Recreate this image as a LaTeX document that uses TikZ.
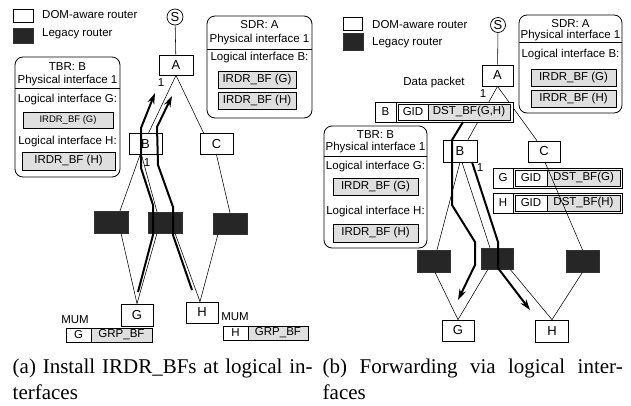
\documentclass[tikz,border=0pt]{standalone}
\usepackage{fontspec}
\setmainfont{Liberation Serif}
\setsansfont{Liberation Sans}
\usetikzlibrary{arrows.meta,shadows}

\tikzset{
 dom/.style={draw, fill=white, inner sep=0, line width=0.7pt, minimum width=33, minimum height=21, font=\sffamily\fontsize{13}{14}\selectfont},
 legacy/.style={draw=black!80, fill=black!85, inner sep=0, minimum width=34, minimum height=21},
 info/.style={draw, rounded corners=8pt, line width=0.8pt, inner sep=0},
 bf/.style={draw, fill=gray!25, inner sep=0, drop shadow={shadow xshift=0.8pt, shadow yshift=-0.8pt, fill=gray, opacity=0.8}},
 cell/.style={draw, fill=white, inner sep=0},
 pkt/.style={draw, fill=white, inner sep=0, drop shadow={shadow xshift=0.8pt, shadow yshift=-0.8pt, fill=gray, opacity=0.8}},
 lbl/.style={inner sep=0},
 link/.style={line width=0.55pt},
 flow/.style={line width=2pt, -{Stealth[length=11pt,width=7pt]}},
 captext/.style={anchor=north west, text width=300pt, align=justify, inner sep=0, font=\rmfamily\fontsize{21}{26}\selectfont}
}

\begin{document}
\begin{tikzpicture}[x=1pt, y=-1pt, font=\sffamily\fontsize{11.5}{13}\selectfont]
 \useasboundingbox (0,0) rectangle (631,405);

 % (a) left picture
 \node[dom, minimum width=20, minimum height=13] (ldom) at (23,15.5) {};
 \node[lbl, anchor=west] (ldomtxt) at (42,15) {DOM-aware router};
 \node[legacy, minimum width=20, minimum height=15] (lleg) at (23,35.5) {};
 \node[lbl, anchor=west] (llegtxt) at (42,34) {Legacy router};

 \node[dom, circle, minimum size=16] (lS) at (175,17) {S};
 \node[dom, minimum width=34, minimum height=20] (lA) at (176,65) {A};
 \node[dom] (lB) at (145.5,144) {B};
 \node[dom] (lC) at (216.5,144) {C};
 \node[legacy, minimum height=22] (lL1) at (111,222) {};
 \node[legacy] (lL2) at (165,222.5) {};
 \node[legacy] (lL3) at (230,223.5) {};
 \node[dom, minimum width=32, minimum height=22] (lG) at (137,315) {G};
 \node[dom, minimum width=32] (lH) at (202,312.5) {H};

 \node[info, minimum width=105, minimum height=102] (lsdr) at (259.5,67) {};
 \node[lbl] (lsdrt) at (259.5,25) {SDR: A};
 \node[lbl] (lsdrp) at (259.5,40) {Physical interface 1};
 \draw[line width=0.8pt] (207,49) -- (312,49);
 \node[lbl] (lsdrl) at (259.5,58) {Logical interface B:};
 \node[bf, minimum width=78, minimum height=17] (lsdrg) at (257,79.5) {IRDR\_BF (G)};
 \node[bf, minimum width=78, minimum height=17] (lsdrh) at (257,100.5) {IRDR\_BF (H)};

 \node[info, minimum width=105, minimum height=120] (ltbr) at (67.5,117) {};
 \node[lbl] (ltbrt) at (67.5,67) {TBR: B};
 \node[lbl] (ltbrp) at (67.5,81) {Physical interface 1};
 \draw[line width=0.8pt] (15,88) -- (120,88);
 \node[lbl] (ltbrg) at (67.5,100) {Logical interface G:};
 \node[bf, minimum width=90, minimum height=16, font=\sffamily\fontsize{9.5}{11}\selectfont] (ltbrgbf) at (68,120) {IRDR\_BF (G)};
 \node[lbl] (ltbrh) at (67.5,142) {Logical interface H:};
 \node[bf, minimum width=93, minimum height=18] (ltbrhbf) at (68.5,161) {IRDR\_BF (H)};

 \draw[link] (lS) -- (lA);
 \draw[link] (lA.south) -- ([xshift=3pt]lB.north);
 \draw[link] (lA.south) -- ([xshift=4pt]lC.north west);
 \draw[link] ([xshift=-5.5pt]lB.south) -- ([xshift=9pt]lL1.north);
 \draw[link] ([xshift=-4pt]lB.south) -- ([xshift=-8pt]lL2.north);
 \draw[link] (lC.south) -- (lL3.north);
 \draw[link] ([xshift=10pt]lL1.south) -- (lG.north);
 \draw[link] ([xshift=-8pt]lL2.south) -- (lG.north);
 \draw[link] ([xshift=10pt]lL2.south) -- ([xshift=-2pt]lH.north);
 \draw[link] ([xshift=-12pt]lL3.south) -- ([xshift=-2pt]lH.north);
 \node[lbl] (lone1) at (161,83) {1};
 \node[lbl] (lone2) at (147,163) {1};

 \coordinate (la1s) at (138,292);
 \coordinate (la1e) at (155,93);
 \draw[flow] (la1s) -- (153,235) -- (153,205) -- (141,168) -- (141,128) -- (la1e);
 \coordinate (la2s) at (192,290);
 \coordinate (la2e) at (172,96);
 \draw[flow] (la2s) -- (173,235) -- (173,207) -- (158,165) -- (157,127) -- (la2e);

 \node[lbl] (lmumg) at (75,320) {MUM};
 \node[pkt, minimum width=25, minimum height=14] (lmg) at (78.5,335) {G};
 \node[bf, minimum width=61, minimum height=14] (lmgbf) at (121.5,335) {GRP\_BF};
 \node[lbl] (lmumh) at (235,317) {MUM};
 \node[pkt, minimum width=25, minimum height=14] (lmh) at (235.5,333) {H};
 \node[bf, minimum width=60, minimum height=14] (lmhbf) at (278,333) {GRP\_BF};

 % (b) right picture
 \node[dom, minimum width=19, minimum height=13] (rdom) at (352.5,23.5) {};
 \node[lbl, anchor=west] (rdomtxt) at (372,25) {DOM-aware router};
 \node[legacy, minimum width=20, minimum height=17] (rleg) at (353,42) {};
 \node[lbl, anchor=west] (rlegtxt) at (372,43) {Legacy router};

 \node[dom, circle, minimum size=15] (rS) at (498,25) {S};
 \node[dom, minimum width=31] (rA) at (497.5,75.5) {A};
 \node[dom, minimum width=34, minimum height=22] (rB) at (460,151) {B};
 \node[dom, minimum width=32] (rC) at (544,151.5) {C};
 \node[legacy, minimum width=33, minimum height=22] (rL1) at (433.5,261) {};
 \node[legacy, minimum width=32] (rL2) at (497,258.5) {};
 \node[legacy, minimum width=33, minimum height=22] (rL3) at (582.5,261) {};
 \node[dom, minimum width=32] (rG) at (458,330.5) {G};
 \node[dom, minimum height=22] (rH) at (552,331) {H};

 \node[info, minimum width=103, minimum height=98] (rsdr) at (570.5,64) {};
 \node[lbl] (rsdrt) at (570.5,24) {SDR: A};
 \node[lbl] (rsdrp) at (570.5,36) {Physical interface 1};
 \draw[line width=0.8pt] (519,42) -- (622,42);
 \node[lbl] (rsdrl) at (570.5,55) {Logical interface B:};
 \node[bf, minimum width=85, minimum height=17] (rsdrg) at (573.5,77.5) {IRDR\_BF (G)};
 \node[bf, minimum width=85, minimum height=17] (rsdrh) at (573.5,98.5) {IRDR\_BF (H)};

 \node[info, minimum width=103, minimum height=122] (rtbr) at (375.5,187) {};
 \node[lbl] (rtbrt) at (375.5,135) {TBR: B};
 \node[lbl] (rtbrp) at (375.5,148) {Physical interface 1};
 \draw[line width=0.8pt] (324,156) -- (427,156);
 \node[lbl] (rtbrg) at (375.5,167) {Logical interface G:};
 \node[bf, minimum width=85, minimum height=17] (rtbrgbf) at (375.5,186.5) {IRDR\_BF (G)};
 \node[lbl] (rtbrh) at (375.5,212) {Logical interface H:};
 \node[bf, minimum width=85, minimum height=18] (rtbrhbf) at (375.5,233) {IRDR\_BF (H)};

 \draw[link] (rS) -- (rA);
 \draw[link] (rA.south) -- ([xshift=8pt]rB.north);
 \draw[link] (rA.south) -- ([xshift=-7pt]rC.north);
 \draw[link] (rB.south) -- ([xshift=3.5pt]rL1.north);
 \draw[link] ([xshift=2pt]rB.south) -- ([xshift=-7pt]rL2.north);
 \draw[link] ([xshift=1.5pt]rL1.south) -- (rG.north);
 \draw[link] ([xshift=-9pt]rL2.south) -- (rG.north);
 \draw[link] ([xshift=13pt]rL2.south) -- (rH.north);
 \draw[link] (rL3.south) -- (rH.north);

 \node[lbl] (rdata) at (434,83) {Data packet};
 \node[pkt, minimum width=138, minimum height=20] (rpkt) at (444,112) {};
 \draw (396,102) -- (396,122);
 \node[lbl] (rpktb) at (385.5,112) {B};
 \node[cell, minimum width=30, minimum height=16] (rpktgid) at (413,112) {GID};
 \node[bf, minimum width=82, minimum height=16, drop shadow={opacity=0}] (rpktdst) at (469,112) {DST\_BF(G,H)};

 \node[pkt, minimum width=129, minimum height=20] (rpg) at (557.5,178) {};
 \draw (513,168) -- (513,188);
 \node[lbl] (rpgl) at (503,178) {G};
 \node[cell, minimum width=32, minimum height=16] (rpggid) at (531,178) {GID};
 \node[bf, minimum width=73, minimum height=16, drop shadow={opacity=0}] (rpgdst) at (583.5,178) {DST\_BF(G)};
 \node[pkt, minimum width=129, minimum height=20] (rph) at (557.5,203) {};
 \draw (513,193) -- (513,213);
 \node[lbl] (rphl) at (503,203) {H};
 \node[cell, minimum width=32, minimum height=16] (rphgid) at (531,203) {GID};
 \node[bf, minimum width=73, minimum height=16, drop shadow={opacity=0}] (rphdst) at (583.5,203) {DST\_BF(H)};

 \draw[link] ([xshift=1pt]rC.south) -- (rL3.north);
 \node[lbl] (rone1) at (483,94) {1};
 \node[lbl] (rone2) at (480,168) {1};

 \coordinate (ra1s) at (463,122);
 \coordinate (ra1e) at (458,300);
 \draw[flow] (ra1s) -- (452,140) -- (452,205) -- (475,242) -- (475,265) -- (ra1e);
 \coordinate (ra2s) at (472,162);
 \coordinate (ra2e) at (530,310);
 \draw[flow] (ra2s) -- (498,242) -- (498,268) -- (ra2e);

 % captions
 \node[captext] (capa) at (12.5,358.5) {(a) Install IRDR\_BFs at logical in-\linebreak terfaces};
 \node[captext] (capb) at (322.5,358.5) {(b) Forwarding via logical inter-\linebreak faces};
\end{tikzpicture}
\end{document}
